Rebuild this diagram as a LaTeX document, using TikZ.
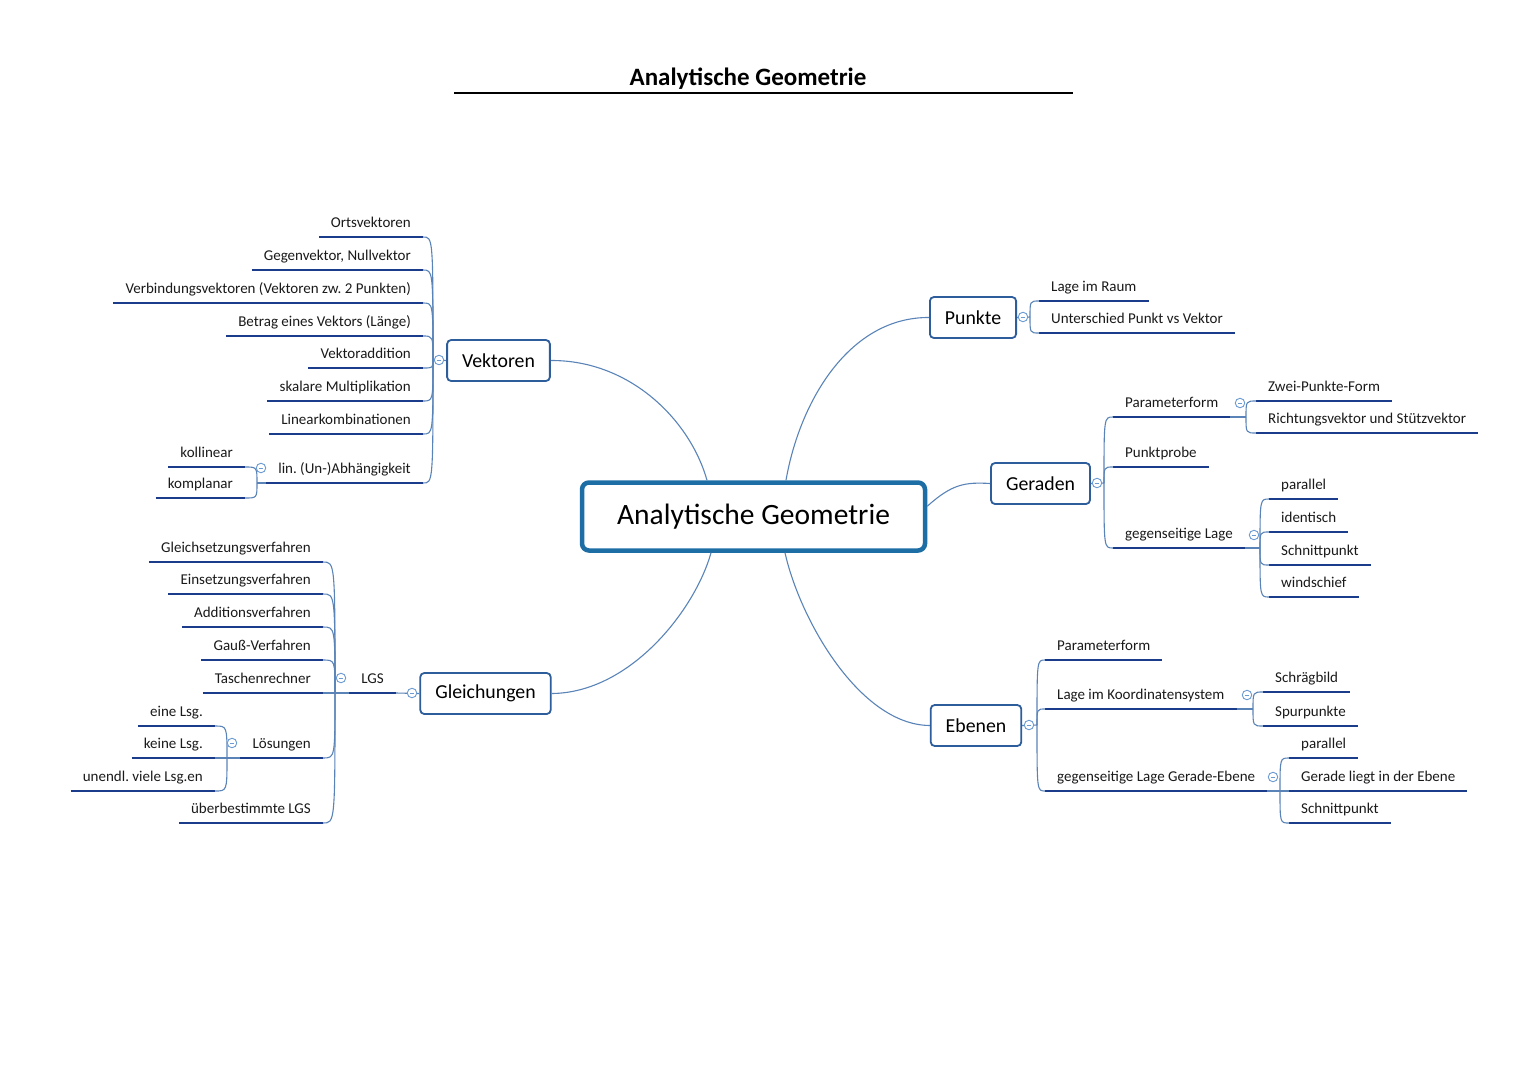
\documentclass[tikz,border=0pt]{standalone}
\usepackage{fontspec}
\setmainfont{Carlito}
\frenchspacing
\definecolor{lineblue}{HTML}{1B3C8A}
\definecolor{boxblue}{HTML}{2E5D9C}
\definecolor{hubblue}{HTML}{1E6EA6}
\definecolor{curveblue}{HTML}{5A84B8}
\definecolor{markblue}{HTML}{6A9BD3}
\definecolor{leaftext}{HTML}{1A1A1A}

\begin{document}
\begin{tikzpicture}[x=1pt,y=-1pt,
    hub/.style={draw=hubblue,line width=4.5pt,rounded corners=7pt,minimum width=343pt,minimum height=68pt,font=\fontsize{29.5}{32}\selectfont},
    topic/.style={draw=boxblue,line width=1.8pt,rounded corners=4pt,minimum height=41pt,inner xsep=15pt,font=\fontsize{19.8}{22}\selectfont},
    uline/.style={draw=lineblue,line width=2.6pt},
    leaf/.style={font=\fontsize{15}{17}\selectfont\frenchspacing,text=leaftext,inner xsep=12pt,inner ysep=5.5pt,text height=10.5pt,text depth=3.5pt,
        append after command={(\tikzlastnode.south west) edge[uline] (\tikzlastnode.south east)}},
    lleaf/.style={leaf,anchor=south east},
    rleaf/.style={leaf,anchor=south west},
    conn/.style={draw=curveblue,line width=1.1pt},
    kid/.style={conn,to path={.. controls (\tikztostart |- \tikztotarget) .. (\tikztotarget)}},
    minus/.style={circle,draw=markblue,fill=white,line width=0.9pt,minimum size=9.5pt,inner sep=0pt,
        path picture={\draw[markblue,line width=0.8pt] ([xshift=2.3pt]path picture bounding box.west) -- ([xshift=-2.3pt]path picture bounding box.east);}}]
    \useasboundingbox[fill=white] (0,0) rectangle (1527,1080);

    % title
    \node[font=\bfseries\fontsize{25}{28}\selectfont](title)at(748, 78.5){Analytische Geometrie};
    \draw[line width=1.4pt] (454, 93) -- (1073, 93);

    % hub and topics
    \node[hub](C)at(753.5, 516.5){Analytische Geometrie};
    \node[topic](V)at(498.5, 360.5){Vektoren};
    \node[topic](G)at(485.5, 693.5){Gleichungen};
    \node[topic](P)at(973, 317.5){Punkte};
    \node[topic](R)at(1040.5, 483.5){Geraden};
    \node[topic](E)at(976, 725.5){Ebenen};

    % Vektoren
    \node[lleaf](v1)at(423, 237){Ortsvektoren};
    \node[lleaf](v2)at(423, 270){Gegenvektor, Nullvektor};
    \node[lleaf](v3)at(423, 303){Verbindungsvektoren (Vektoren zw. 2 Punkten)};
    \node[lleaf](v4)at(423, 336){Betrag eines Vektors (Länge)};
    \node[lleaf](v5)at(423, 368){Vektoraddition};
    \node[lleaf](v6)at(423, 401){skalare Multiplikation};
    \node[lleaf](v7)at(423, 434){Linearkombinationen};
    \node[lleaf](v8)at(423, 483){lin. (Un-)Abhängigkeit};
    \node[lleaf](v8a)at(245, 467){kollinear};
    \node[lleaf](v8b)at(245, 498){komplanar};
    \coordinate(JV)at(433, 360);
    \coordinate(JV8)at(257, 483);

    % Gleichungen
    \node[lleaf](g0)at(396, 693){LGS};
    \node[lleaf](g1)at(323, 562){Gleichsetzungsverfahren};
    \node[lleaf](g2)at(323, 594){Einsetzungsverfahren};
    \node[lleaf](g3)at(323, 627){Additionsverfahren};
    \node[lleaf](g4)at(323, 660){Gauß-Verfahren};
    \node[lleaf](g5)at(323, 693){Taschenrechner};
    \node[lleaf](g6)at(323, 758){Lösungen};
    \node[lleaf](g7)at(323, 823){überbestimmte LGS};
    \node[lleaf](g6a)at(215, 726){eine Lsg.};
    \node[lleaf](g6b)at(215, 758){keine Lsg.};
    \node[lleaf](g6c)at(215, 791){unendl. viele Lsg.en};
    \coordinate(JG)at(335, 693);
    \coordinate(JG6)at(227, 758);

    % Punkte
    \node[rleaf](p1)at(1039, 301){Lage im Raum};
    \node[rleaf](p2)at(1039, 333){Unterschied Punkt vs Vektor};
    \coordinate(JP)at(1030, 317);

    % Geraden
    \node[rleaf](r1)at(1113, 417){Parameterform};
    \node[rleaf](r2)at(1113, 467){Punktprobe};
    \node[rleaf](r3)at(1113, 548){gegenseitige Lage};
    \node[rleaf](r1a)at(1256, 401){Zwei-Punkte-Form};
    \node[rleaf](r1b)at(1256, 433){Richtungsvektor und Stützvektor};
    \node[rleaf](r3a)at(1269, 499){parallel};
    \node[rleaf](r3b)at(1269, 532){identisch};
    \node[rleaf](r3c)at(1269, 565){Schnittpunkt};
    \node[rleaf](r3d)at(1269, 597){windschief};
    \coordinate(JR)at(1104, 483);
    \coordinate(JR1)at(1246, 417);
    \coordinate(JR3)at(1260, 548);

    % Ebenen
    \node[rleaf](e1)at(1045, 660){Parameterform};
    \node[rleaf](e2)at(1045, 709){Lage im Koordinatensystem};
    \node[rleaf](e3)at(1045, 791){gegenseitige Lage Gerade-Ebene};
    \node[rleaf](e2a)at(1263, 692){Schrägbild};
    \node[rleaf](e2b)at(1263, 726){Spurpunkte};
    \node[rleaf](e3a)at(1289, 758){parallel};
    \node[rleaf](e3b)at(1289, 791){Gerade liegt in der Ebene};
    \node[rleaf](e3c)at(1289, 823){Schnittpunkt};
    \coordinate(JE)at(1037, 725);
    \coordinate(JE2)at(1253, 709);
    \coordinate(JE3)at(1280, 791);

    % hub to topics
    \path[conn] ([xshift=-46.5pt]C.north) .. controls (690, 420) and (630, 360) .. (V.east);
    \path[conn] ([xshift=32.5pt]C.north) .. controls (800, 400) and (850, 317) .. (P.west);
    \path[conn] ([xshift=-42.5pt]C.south) .. controls (695, 610) and (630, 693) .. (G.east);
    \path[conn] ([xshift=31.5pt]C.south) .. controls (800, 620) and (860, 725) .. (E.west);
    \path[conn] ([yshift=-26pt]C.north east) .. controls (952, 484) and (965, 482) .. (R.west);

    % branches
    \path (V.west) edge[conn] (JV)
        (JV) edge[kid] (v1.south east) (JV) edge[kid] (v2.south east)
        (JV) edge[kid] (v3.south east) (JV) edge[kid] (v4.south east)
        (JV) edge[kid] (v5.south east) (JV) edge[kid] (v6.south east)
        (JV) edge[kid] (v7.south east) (JV) edge[kid] (v8.south east)
        (v8.south west) edge[conn] (JV8)
        (JV8) edge[kid] (v8a.south east) (JV8) edge[kid] (v8b.south east);
    \path (G.west) edge[conn] (g0.south east)
        (g0.south west) edge[conn] (JG)
        (JG) edge[kid] (g1.south east) (JG) edge[kid] (g2.south east)
        (JG) edge[kid] (g3.south east) (JG) edge[kid] (g4.south east)
        (JG) edge[kid] (g5.south east) (JG) edge[kid] (g6.south east)
        (JG) edge[kid] (g7.south east)
        (g6.south west) edge[conn] (JG6)
        (JG6) edge[kid] (g6a.south east) (JG6) edge[kid] (g6b.south east)
        (JG6) edge[kid] (g6c.south east);
    \path (P.east) edge[conn] (JP)
        (JP) edge[kid] (p1.south west) (JP) edge[kid] (p2.south west);
    \path (R.east) edge[conn] (JR)
        (JR) edge[kid] (r1.south west) (JR) edge[kid] (r2.south west)
        (JR) edge[kid] (r3.south west)
        (r1.south east) edge[conn] (JR1)
        (JR1) edge[kid] (r1a.south west) (JR1) edge[kid] (r1b.south west)
        (r3.south east) edge[conn] (JR3)
        (JR3) edge[kid] (r3a.south west) (JR3) edge[kid] (r3b.south west)
        (JR3) edge[kid] (r3c.south west) (JR3) edge[kid] (r3d.south west);
    \path (E.east) edge[conn] (JE)
        (JE) edge[kid] (e1.south west) (JE) edge[kid] (e2.south west)
        (JE) edge[kid] (e3.south west)
        (e2.south east) edge[conn] (JE2)
        (JE2) edge[kid] (e2a.south west) (JE2) edge[kid] (e2b.south west)
        (e3.south east) edge[conn] (JE3)
        (JE3) edge[kid] (e3a.south west) (JE3) edge[kid] (e3b.south west)
        (JE3) edge[kid] (e3c.south west);

    % collapse markers
    \node[minus](mV)at(439, 360){};
    \node[minus](mV8)at(261, 468){};
    \node[minus](mG)at(412, 693){};
    \node[minus](mG0)at(341, 678){};
    \node[minus](mG6)at(232, 743){};
    \node[minus](mP)at(1023, 317){};
    \node[minus](mR)at(1097, 483){};
    \node[minus](mR1)at(1240, 403){};
    \node[minus](mR3)at(1254, 535){};
    \node[minus](mE)at(1029, 725){};
    \node[minus](mE2)at(1247, 695){};
    \node[minus](mE3)at(1273, 777){};
\end{tikzpicture}
\end{document}
